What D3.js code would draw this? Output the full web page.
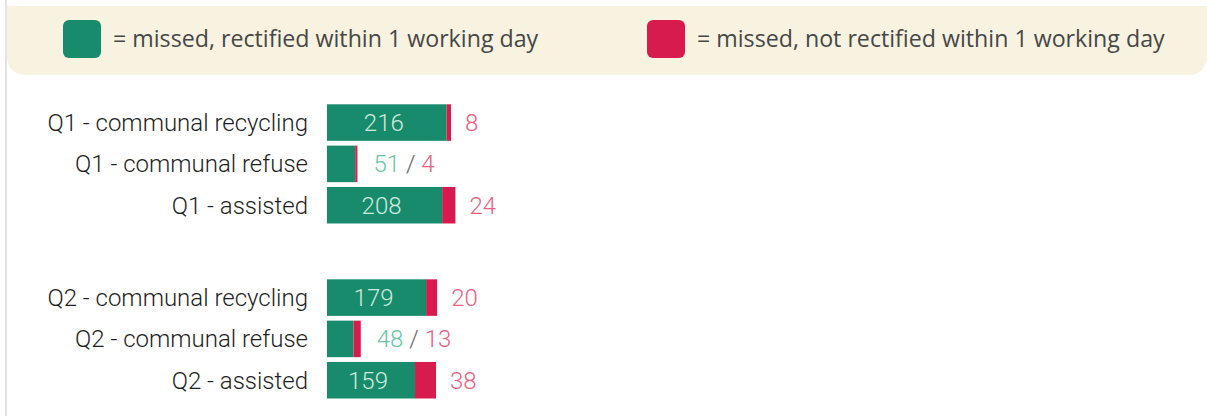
<!DOCTYPE html>
<html>
<head>
<meta charset="utf-8">
<script src="https://cdn.jsdelivr.net/npm/d3@7"></script>
<style>
  body { margin: 0; background: #fff; }
  svg { display: block; }
</style>
</head>
<body>
<div id="chart"></div>
<script>
// data
const groups = ["Q1", "Q2"];
const services = ["communal recycling", "communal refuse", "assisted"];
const rectified = [[216, 51, 208], [179, 48, 159]];
const notRectified = [[8, 4, 24], [20, 13, 38]];
const legendLabels = ["= missed, rectified within 1 working day", "= missed, not rectified within 1 working day"];

const W = 1207, H = 416;
const green = "#178b6c", red = "#d81b4e";

let rows = [];
groups.forEach((g, gi) => services.forEach((s, si) => rows.push({
    group: g, service: s, label: `${g} - ${s}`,
    a: rectified[gi][si], b: notRectified[gi][si]
})));

let svg = d3.select("#chart").append("svg")
    .attr("width", W).attr("height", H);

// faint page edge
svg.append("line")
    .attr("x1", 6).attr("x2", 6).attr("y1", 0).attr("y2", H)
    .attr("stroke", "#e4e4e4").attr("stroke-width", 2);

// legend panel
let lg = svg.append("g");
lg.append("path")
    .attr("fill", "#f8f2e0")
    .attr("d", () => {
        let x0 = 7, y0 = 6, x1 = 1207, y1 = 75, r = 20;
        return `M${x0},${y0}H${x1}V${y1 - r}Q${x1},${y1} ${x1 - r},${y1}H${x0 + r}Q${x0},${y1} ${x0},${y1 - r}Z`;
    });

const legendX = d3.scalePoint().domain([0, 1]).range([63, 647]);
let items = lg.selectAll(".item").data(legendLabels).join("g")
    .attr("class", "item")
    .attr("transform", (d, i) => `translate(${legendX(i)},20)`);
items.append("rect")
    .attr("width", 38).attr("height", 38).attr("rx", 6)
    .attr("fill", (d, i) => i ? red : green);
items.append("text")
    .attr("x", 50).attr("y", 19).attr("dy", "0.35em")
    .attr("font-family", "Open Sans").attr("font-size", 23.2)
    .attr("fill", "#474747")
    .text(d => d);

// scales
const x = d3.scaleLinear().domain([0, 224]).range([327, 451]);
const yGroup = d3.scaleBand().domain(groups).range([104.3, 398.5]).paddingInner(0.319);
const yRow = d3.scaleBand().domain(services).range([0, yGroup.bandwidth()]).paddingInner(0.116);
const yOf = d => yGroup(d.group) + yRow(d.service);

const font = "Roboto", fs = 24;

let row = svg.selectAll(".row").data(rows).join("g")
    .attr("class", "row")
    .attr("transform", d => `translate(0,${yOf(d)})`);

row.append("text")
    .attr("x", 308).attr("y", yRow.bandwidth() / 2).attr("dy", "0.35em")
    .attr("text-anchor", "end")
    .attr("font-family", font).attr("font-size", fs).attr("font-weight", 300)
    .attr("fill", "#1e1e1e")
    .text(d => d.label);

row.append("rect")
    .attr("x", x(0)).attr("width", d => x(d.a) - x(0))
    .attr("height", yRow.bandwidth()).attr("fill", green);
row.append("rect")
    .attr("x", d => x(d.a)).attr("width", d => x(d.a + d.b) - x(d.a))
    .attr("height", yRow.bandwidth()).attr("fill", red);

// labels: inside the bar when it is wide enough, otherwise both after it
row.filter(d => d.a > 100).append("text")
    .attr("x", d => (x(0) + x(d.a)) / 2 - 3).attr("y", yRow.bandwidth() / 2).attr("dy", "0.35em")
    .attr("text-anchor", "middle")
    .attr("font-family", font).attr("font-size", fs).attr("font-weight", 300)
    .attr("fill", "#cfe9df")
    .text(d => d.a);
row.filter(d => d.a > 100).append("text")
    .attr("x", d => x(d.a + d.b) + 14).attr("y", yRow.bandwidth() / 2).attr("dy", "0.35em")
    .attr("font-family", font).attr("font-size", fs).attr("font-weight", 300)
    .attr("fill", "#e8617f")
    .text(d => d.b);

let small = row.filter(d => d.a <= 100).append("text")
    .attr("x", d => x(d.a + d.b) + 16).attr("y", yRow.bandwidth() / 2).attr("dy", "0.35em")
    .attr("font-family", font).attr("font-size", fs).attr("font-weight", 300);
small.append("tspan").attr("fill", "#6cc4a4").text(d => d.a);
small.append("tspan").attr("fill", "#666").text(" / ");
small.append("tspan").attr("fill", "#e8617f").text(d => d.b);
</script>
</body>
</html>
